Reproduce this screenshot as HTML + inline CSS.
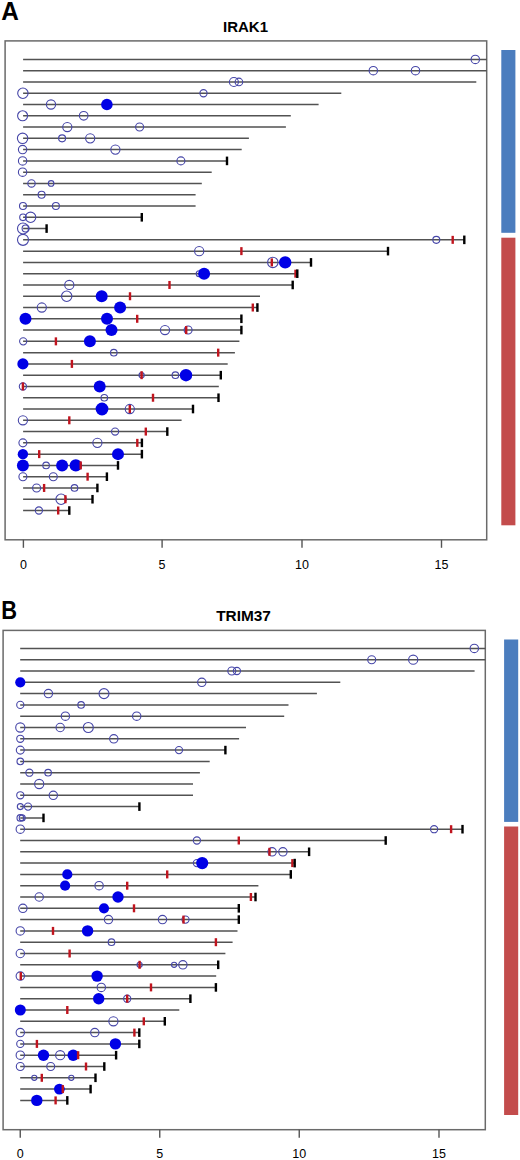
<!DOCTYPE html>
<html><head><meta charset="utf-8"><style>
html,body{margin:0;padding:0;background:#fff;}
body{width:520px;height:1160px;overflow:hidden;}
svg{display:block;font-family:"Liberation Sans",sans-serif;}
</style></head><body>
<svg width="520" height="1160" viewBox="0 0 520 1160">
<rect width="520" height="1160" fill="#fff"/>
<text x="1.3" y="19.8" font-size="25.5" font-weight="bold" textLength="17.6" lengthAdjust="spacingAndGlyphs">A</text>
<text x="245.5" y="31.6" font-size="15" font-weight="bold" text-anchor="middle">IRAK1</text>
<rect x="501.3" y="50" width="14.1" height="182.8" fill="#4b7dbe"/>
<rect x="501.3" y="237.7" width="14.1" height="287.6" fill="#c34c4c"/>
<rect x="5.1" y="40.9" width="481.6" height="498.9" fill="none" stroke="#6a6a6a" stroke-width="1.5"/>
<line x1="23.4" y1="539.8" x2="23.4" y2="547.8" stroke="#555" stroke-width="1.4"/>
<text x="23.4" y="568.5" font-size="12.5" text-anchor="middle">0</text>
<line x1="162.1" y1="539.8" x2="162.1" y2="547.8" stroke="#555" stroke-width="1.4"/>
<text x="162.1" y="568.5" font-size="12.5" text-anchor="middle">5</text>
<line x1="302" y1="539.8" x2="302" y2="547.8" stroke="#555" stroke-width="1.4"/>
<text x="302" y="568.5" font-size="12.5" text-anchor="middle">10</text>
<line x1="441.5" y1="539.8" x2="441.5" y2="547.8" stroke="#555" stroke-width="1.4"/>
<text x="441.5" y="568.5" font-size="12.5" text-anchor="middle">15</text>
<path d="M23.1 59.4H486.7 M23.1 70.68H486.7 M23.1 81.96H476.3 M23.1 93.23H341.3 M23.1 104.51H318.6 M23.1 115.79H290.8 M23.1 127.07H285.9 M23.1 138.35H248.9 M23.1 149.62H241.7 M23.1 160.9H227 M23.1 172.18H211.7 M23.1 183.46H201.8 M23.1 194.74H195.6 M23.1 206.01H195.6 M23.1 217.29H141.8 M23.1 228.57H46.6 M23.1 239.85H464.3 M23.1 251.13H388 M23.1 262.4H311 M23.1 273.68H297.3 M23.1 284.96H292.7 M23.1 296.24H260 M23.1 307.52H257.4 M23.1 318.79H241.4 M23.1 330.07H241.4 M23.1 341.35H239.4 M23.1 352.63H234.9 M23.1 363.91H227.7 M23.1 375.18H220.8 M23.1 386.46H218.8 M23.1 397.74H218.5 M23.1 409.02H193 M23.1 420.3H181.6 M23.1 431.57H167.3 M23.1 442.85H141.9 M23.1 454.13H141.9 M23.1 465.41H118 M23.1 476.69H106.9 M23.1 487.96H97.4 M23.1 499.24H92.5 M23.1 510.52H69.3" stroke="#525252" stroke-width="1.5" fill="none"/>
<circle cx="475.3" cy="59.4" r="4.2" fill="none" stroke="#4646a8" stroke-width="1.1"/>
<circle cx="373.3" cy="70.68" r="4.2" fill="none" stroke="#4646a8" stroke-width="1.1"/>
<circle cx="415.5" cy="70.68" r="4.2" fill="none" stroke="#4646a8" stroke-width="1.1"/>
<circle cx="233.9" cy="81.96" r="4.5" fill="none" stroke="#4646a8" stroke-width="1.1"/>
<circle cx="238.9" cy="81.96" r="3.8" fill="none" stroke="#4646a8" stroke-width="1.1"/>
<circle cx="22.9" cy="93.23" r="5.2" fill="none" stroke="#4646a8" stroke-width="1.1"/>
<circle cx="203.5" cy="93.23" r="3.6" fill="none" stroke="#4646a8" stroke-width="1.1"/>
<circle cx="51" cy="104.51" r="4.6" fill="none" stroke="#4646a8" stroke-width="1.1"/>
<circle cx="106.9" cy="104.51" r="5.8" fill="#0000e6"/>
<circle cx="22.6" cy="115.79" r="5" fill="none" stroke="#4646a8" stroke-width="1.1"/>
<circle cx="83.7" cy="115.79" r="4.3" fill="none" stroke="#4646a8" stroke-width="1.1"/>
<circle cx="67.3" cy="127.07" r="4.6" fill="none" stroke="#4646a8" stroke-width="1.1"/>
<circle cx="139.6" cy="127.07" r="4" fill="none" stroke="#4646a8" stroke-width="1.1"/>
<circle cx="22.6" cy="138.35" r="5.2" fill="none" stroke="#4646a8" stroke-width="1.1"/>
<circle cx="62.1" cy="138.35" r="3.5" fill="none" stroke="#4646a8" stroke-width="1.1"/>
<circle cx="90.2" cy="138.35" r="4.6" fill="none" stroke="#4646a8" stroke-width="1.1"/>
<circle cx="22.6" cy="149.62" r="4.2" fill="none" stroke="#4646a8" stroke-width="1.1"/>
<circle cx="115.4" cy="149.62" r="4.6" fill="none" stroke="#4646a8" stroke-width="1.1"/>
<circle cx="22.6" cy="160.9" r="4.2" fill="none" stroke="#4646a8" stroke-width="1.1"/>
<circle cx="180.9" cy="160.9" r="4" fill="none" stroke="#4646a8" stroke-width="1.1"/>
<circle cx="22.6" cy="172.18" r="4.2" fill="none" stroke="#4646a8" stroke-width="1.1"/>
<circle cx="31.5" cy="183.46" r="3.7" fill="none" stroke="#4646a8" stroke-width="1.1"/>
<circle cx="51.1" cy="183.46" r="2.8" fill="none" stroke="#4646a8" stroke-width="1.1"/>
<circle cx="41.6" cy="194.74" r="3.5" fill="none" stroke="#4646a8" stroke-width="1.1"/>
<circle cx="23" cy="206.01" r="3.5" fill="none" stroke="#4646a8" stroke-width="1.1"/>
<circle cx="55.9" cy="206.01" r="3.5" fill="none" stroke="#4646a8" stroke-width="1.1"/>
<circle cx="23" cy="217.29" r="3.3" fill="none" stroke="#4646a8" stroke-width="1.1"/>
<circle cx="30.6" cy="217.29" r="5.2" fill="none" stroke="#4646a8" stroke-width="1.1"/>
<circle cx="23" cy="228.57" r="5.5" fill="none" stroke="#4646a8" stroke-width="1.1"/>
<circle cx="25.6" cy="228.57" r="3.5" fill="none" stroke="#4646a8" stroke-width="1.1"/>
<circle cx="23" cy="239.85" r="5.5" fill="none" stroke="#4646a8" stroke-width="1.1"/>
<circle cx="436.3" cy="239.85" r="3.5" fill="none" stroke="#4646a8" stroke-width="1.1"/>
<circle cx="199.2" cy="251.13" r="4.6" fill="none" stroke="#4646a8" stroke-width="1.1"/>
<circle cx="272.8" cy="262.4" r="5.2" fill="none" stroke="#4646a8" stroke-width="1.1"/>
<circle cx="285.2" cy="262.4" r="6.2" fill="#0000e6"/>
<circle cx="199.2" cy="273.68" r="3" fill="none" stroke="#4646a8" stroke-width="1.1"/>
<circle cx="204.1" cy="273.68" r="6" fill="#0000e6"/>
<circle cx="69.3" cy="284.96" r="4.6" fill="none" stroke="#4646a8" stroke-width="1.1"/>
<circle cx="66.7" cy="296.24" r="5.2" fill="none" stroke="#4646a8" stroke-width="1.1"/>
<circle cx="101.7" cy="296.24" r="6" fill="#0000e6"/>
<circle cx="41.8" cy="307.52" r="4.6" fill="none" stroke="#4646a8" stroke-width="1.1"/>
<circle cx="120.1" cy="307.52" r="6" fill="#0000e6"/>
<circle cx="25.5" cy="318.79" r="6" fill="#0000e6"/>
<circle cx="107" cy="318.79" r="6" fill="#0000e6"/>
<circle cx="111.5" cy="330.07" r="6" fill="#0000e6"/>
<circle cx="165" cy="330.07" r="4.6" fill="none" stroke="#4646a8" stroke-width="1.1"/>
<circle cx="188.1" cy="330.07" r="4" fill="none" stroke="#4646a8" stroke-width="1.1"/>
<circle cx="23.2" cy="341.35" r="3.6" fill="none" stroke="#4646a8" stroke-width="1.1"/>
<circle cx="89.9" cy="341.35" r="6" fill="#0000e6"/>
<circle cx="113.8" cy="352.63" r="3.3" fill="none" stroke="#4646a8" stroke-width="1.1"/>
<circle cx="22.9" cy="363.91" r="5.6" fill="#0000e6"/>
<circle cx="141.6" cy="375.18" r="2.6" fill="none" stroke="#4646a8" stroke-width="1.1"/>
<circle cx="175.4" cy="375.18" r="3.3" fill="none" stroke="#4646a8" stroke-width="1.1"/>
<circle cx="186" cy="375.18" r="6.2" fill="#0000e6"/>
<circle cx="22.9" cy="386.46" r="3.6" fill="none" stroke="#4646a8" stroke-width="1.1"/>
<circle cx="99.7" cy="386.46" r="6" fill="#0000e6"/>
<circle cx="104.3" cy="397.74" r="3.3" fill="none" stroke="#4646a8" stroke-width="1.1"/>
<circle cx="102" cy="409.02" r="6.4" fill="#0000e6"/>
<circle cx="129.8" cy="409.02" r="4.6" fill="none" stroke="#4646a8" stroke-width="1.1"/>
<circle cx="22.9" cy="420.3" r="4.6" fill="none" stroke="#4646a8" stroke-width="1.1"/>
<circle cx="115.1" cy="431.57" r="3.6" fill="none" stroke="#4646a8" stroke-width="1.1"/>
<circle cx="22.9" cy="442.85" r="4" fill="none" stroke="#4646a8" stroke-width="1.1"/>
<circle cx="97.4" cy="442.85" r="4.6" fill="none" stroke="#4646a8" stroke-width="1.1"/>
<circle cx="22.9" cy="454.13" r="5.2" fill="#0000e6"/>
<circle cx="118" cy="454.13" r="6" fill="#0000e6"/>
<circle cx="22.9" cy="465.41" r="6" fill="#0000e6"/>
<circle cx="46.1" cy="465.41" r="3.3" fill="none" stroke="#4646a8" stroke-width="1.1"/>
<circle cx="62.1" cy="465.41" r="6" fill="#0000e6"/>
<circle cx="75.8" cy="465.41" r="6.2" fill="#0000e6"/>
<circle cx="22.9" cy="476.69" r="4" fill="none" stroke="#4646a8" stroke-width="1.1"/>
<circle cx="53.3" cy="476.69" r="4" fill="none" stroke="#4646a8" stroke-width="1.1"/>
<circle cx="36.6" cy="487.96" r="4" fill="none" stroke="#4646a8" stroke-width="1.1"/>
<circle cx="74.5" cy="487.96" r="3.3" fill="none" stroke="#4646a8" stroke-width="1.1"/>
<circle cx="61.1" cy="499.24" r="5.2" fill="none" stroke="#4646a8" stroke-width="1.1"/>
<circle cx="38.9" cy="510.52" r="3.6" fill="none" stroke="#4646a8" stroke-width="1.1"/>
<rect x="225.8" y="156.6" width="2.4" height="8.6" fill="#000000"/>
<rect x="140.6" y="212.99" width="2.4" height="8.6" fill="#000000"/>
<rect x="45.4" y="224.27" width="2.4" height="8.6" fill="#000000"/>
<rect x="451.5" y="235.85" width="2.4" height="8" fill="#c0141e"/>
<rect x="463.1" y="235.55" width="2.4" height="8.6" fill="#000000"/>
<rect x="240.2" y="247.13" width="2.4" height="8" fill="#c0141e"/>
<rect x="386.8" y="246.83" width="2.4" height="8.6" fill="#000000"/>
<rect x="270.6" y="258.4" width="2.4" height="8" fill="#c0141e"/>
<rect x="309.8" y="258.1" width="2.4" height="8.6" fill="#000000"/>
<rect x="294.3" y="269.68" width="2.4" height="8" fill="#c0141e"/>
<rect x="296.1" y="269.38" width="2.4" height="8.6" fill="#000000"/>
<rect x="168.3" y="280.96" width="2.4" height="8" fill="#c0141e"/>
<rect x="291.5" y="280.66" width="2.4" height="8.6" fill="#000000"/>
<rect x="128.8" y="292.24" width="2.4" height="8" fill="#c0141e"/>
<rect x="251.6" y="303.52" width="2.4" height="8" fill="#c0141e"/>
<rect x="256.2" y="303.22" width="2.4" height="8.6" fill="#000000"/>
<rect x="136" y="314.79" width="2.4" height="8" fill="#c0141e"/>
<rect x="240.2" y="314.49" width="2.4" height="8.6" fill="#000000"/>
<rect x="185" y="326.07" width="2.4" height="8" fill="#c0141e"/>
<rect x="240.2" y="325.77" width="2.4" height="8.6" fill="#000000"/>
<rect x="54.7" y="337.35" width="2.4" height="8" fill="#c0141e"/>
<rect x="217" y="348.63" width="2.4" height="8" fill="#c0141e"/>
<rect x="70.7" y="359.91" width="2.4" height="8" fill="#c0141e"/>
<rect x="140.4" y="371.18" width="2.4" height="8" fill="#c0141e"/>
<rect x="219.6" y="370.88" width="2.4" height="8.6" fill="#000000"/>
<rect x="21.7" y="382.46" width="2.4" height="8" fill="#c0141e"/>
<rect x="151.8" y="393.74" width="2.4" height="8" fill="#c0141e"/>
<rect x="217.3" y="393.44" width="2.4" height="8.6" fill="#000000"/>
<rect x="128.6" y="405.02" width="2.4" height="8" fill="#c0141e"/>
<rect x="191.8" y="404.72" width="2.4" height="8.6" fill="#000000"/>
<rect x="68.1" y="416.3" width="2.4" height="8" fill="#c0141e"/>
<rect x="144.6" y="427.57" width="2.4" height="8" fill="#c0141e"/>
<rect x="166.1" y="427.27" width="2.4" height="8.6" fill="#000000"/>
<rect x="136.1" y="438.85" width="2.4" height="8" fill="#c0141e"/>
<rect x="140.7" y="438.55" width="2.4" height="8.6" fill="#000000"/>
<rect x="38" y="450.13" width="2.4" height="8" fill="#c0141e"/>
<rect x="140.7" y="449.83" width="2.4" height="8.6" fill="#000000"/>
<rect x="79.5" y="461.41" width="2.4" height="8" fill="#c0141e"/>
<rect x="116.8" y="461.11" width="2.4" height="8.6" fill="#000000"/>
<rect x="86.4" y="472.69" width="2.4" height="8" fill="#c0141e"/>
<rect x="105.7" y="472.39" width="2.4" height="8.6" fill="#000000"/>
<rect x="42.9" y="483.96" width="2.4" height="8" fill="#c0141e"/>
<rect x="96.2" y="483.66" width="2.4" height="8.6" fill="#000000"/>
<rect x="64.2" y="495.24" width="2.4" height="8" fill="#c0141e"/>
<rect x="91.3" y="494.94" width="2.4" height="8.6" fill="#000000"/>
<rect x="57" y="506.52" width="2.4" height="8" fill="#c0141e"/>
<rect x="68.1" y="506.22" width="2.4" height="8.6" fill="#000000"/>
<text x="1.2" y="618.8" font-size="25.5" font-weight="bold" textLength="15.8" lengthAdjust="spacingAndGlyphs">B</text>
<text x="243.5" y="621.2" font-size="15.4" font-weight="bold" text-anchor="middle">TRIM37</text>
<rect x="504.1" y="639.5" width="14.1" height="182.4" fill="#4b7dbe"/>
<rect x="504.1" y="826.5" width="14.1" height="288.5" fill="#c34c4c"/>
<rect x="3.1" y="630.4" width="482.2" height="499.3" fill="none" stroke="#6a6a6a" stroke-width="1.5"/>
<line x1="20.25" y1="1129.7" x2="20.25" y2="1137.7" stroke="#555" stroke-width="1.4"/>
<text x="20.25" y="1158.4" font-size="12.5" text-anchor="middle">0</text>
<line x1="159.75" y1="1129.7" x2="159.75" y2="1137.7" stroke="#555" stroke-width="1.4"/>
<text x="159.75" y="1158.4" font-size="12.5" text-anchor="middle">5</text>
<line x1="299.25" y1="1129.7" x2="299.25" y2="1137.7" stroke="#555" stroke-width="1.4"/>
<text x="299.25" y="1158.4" font-size="12.5" text-anchor="middle">10</text>
<line x1="439" y1="1129.7" x2="439" y2="1137.7" stroke="#555" stroke-width="1.4"/>
<text x="439" y="1158.4" font-size="12.5" text-anchor="middle">15</text>
<path d="M20.2 648.4H485.3 M20.2 659.7H485.3 M20.2 671H474.6 M20.2 682.3H340.3 M20.2 693.6H316.9 M20.2 704.9H288.5 M20.2 716.2H284.2 M20.2 727.5H246 M20.2 738.8H239.1 M20.2 750.1H225.4 M20.2 761.4H209.7 M20.2 772.7H199.9 M20.2 784H193 M20.2 795.3H193 M20.2 806.6H139.4 M20.2 817.9H43.5 M20.2 829.2H462.5 M20.2 840.5H385.7 M20.2 851.8H309.1 M20.2 863.1H294.7 M20.2 874.4H290.8 M20.2 885.7H258.4 M20.2 897H255.5 M20.2 908.3H238.8 M20.2 919.6H238.8 M20.2 930.9H237.5 M20.2 942.2H232.6 M20.2 953.5H225.4 M20.2 964.8H218.2 M20.2 976.1H216.2 M20.2 987.4H215.9 M20.2 998.7H190.4 M20.2 1010H179.3 M20.2 1021.3H164.8 M20.2 1032.6H139.3 M20.2 1043.9H139.3 M20.2 1055.2H116.1 M20.2 1066.5H104.3 M20.2 1077.8H95.5 M20.2 1089.1H90.6 M20.2 1100.4H67.3" stroke="#525252" stroke-width="1.5" fill="none"/>
<circle cx="474.3" cy="648.4" r="4.2" fill="none" stroke="#4646a8" stroke-width="1.1"/>
<circle cx="371.7" cy="659.7" r="4" fill="none" stroke="#4646a8" stroke-width="1.1"/>
<circle cx="413.2" cy="659.7" r="4.6" fill="none" stroke="#4646a8" stroke-width="1.1"/>
<circle cx="231.8" cy="671" r="4" fill="none" stroke="#4646a8" stroke-width="1.1"/>
<circle cx="236.9" cy="671" r="3.6" fill="none" stroke="#4646a8" stroke-width="1.1"/>
<circle cx="20.3" cy="682.3" r="5.1" fill="#0000e6"/>
<circle cx="201.8" cy="682.3" r="4.2" fill="none" stroke="#4646a8" stroke-width="1.1"/>
<circle cx="48.4" cy="693.6" r="4.2" fill="none" stroke="#4646a8" stroke-width="1.1"/>
<circle cx="104" cy="693.6" r="5" fill="none" stroke="#4646a8" stroke-width="1.1"/>
<circle cx="20.3" cy="704.9" r="3.6" fill="none" stroke="#4646a8" stroke-width="1.1"/>
<circle cx="81.1" cy="704.9" r="3.3" fill="none" stroke="#4646a8" stroke-width="1.1"/>
<circle cx="65.4" cy="716.2" r="4.2" fill="none" stroke="#4646a8" stroke-width="1.1"/>
<circle cx="136.7" cy="716.2" r="4.2" fill="none" stroke="#4646a8" stroke-width="1.1"/>
<circle cx="20.3" cy="727.5" r="4.6" fill="none" stroke="#4646a8" stroke-width="1.1"/>
<circle cx="60.2" cy="727.5" r="4.2" fill="none" stroke="#4646a8" stroke-width="1.1"/>
<circle cx="88.3" cy="727.5" r="5" fill="none" stroke="#4646a8" stroke-width="1.1"/>
<circle cx="20.3" cy="738.8" r="3.6" fill="none" stroke="#4646a8" stroke-width="1.1"/>
<circle cx="113.8" cy="738.8" r="4.2" fill="none" stroke="#4646a8" stroke-width="1.1"/>
<circle cx="20.3" cy="750.1" r="4" fill="none" stroke="#4646a8" stroke-width="1.1"/>
<circle cx="179" cy="750.1" r="3.6" fill="none" stroke="#4646a8" stroke-width="1.1"/>
<circle cx="20.3" cy="761.4" r="3.3" fill="none" stroke="#4646a8" stroke-width="1.1"/>
<circle cx="29.4" cy="772.7" r="3.6" fill="none" stroke="#4646a8" stroke-width="1.1"/>
<circle cx="48.1" cy="772.7" r="3.3" fill="none" stroke="#4646a8" stroke-width="1.1"/>
<circle cx="39.2" cy="784" r="4.6" fill="none" stroke="#4646a8" stroke-width="1.1"/>
<circle cx="20.3" cy="795.3" r="3.6" fill="none" stroke="#4646a8" stroke-width="1.1"/>
<circle cx="53.3" cy="795.3" r="4.2" fill="none" stroke="#4646a8" stroke-width="1.1"/>
<circle cx="20.3" cy="806.6" r="3" fill="none" stroke="#4646a8" stroke-width="1.1"/>
<circle cx="28" cy="806.6" r="3.6" fill="none" stroke="#4646a8" stroke-width="1.1"/>
<circle cx="20.3" cy="817.9" r="3.3" fill="none" stroke="#4646a8" stroke-width="1.1"/>
<circle cx="22.2" cy="817.9" r="3" fill="none" stroke="#4646a8" stroke-width="1.1"/>
<circle cx="20.3" cy="829.2" r="4.2" fill="none" stroke="#4646a8" stroke-width="1.1"/>
<circle cx="434.1" cy="829.2" r="3.6" fill="none" stroke="#4646a8" stroke-width="1.1"/>
<circle cx="196.9" cy="840.5" r="3.6" fill="none" stroke="#4646a8" stroke-width="1.1"/>
<circle cx="272.1" cy="851.8" r="4.2" fill="none" stroke="#4646a8" stroke-width="1.1"/>
<circle cx="282.9" cy="851.8" r="4.2" fill="none" stroke="#4646a8" stroke-width="1.1"/>
<circle cx="196.9" cy="863.1" r="3.6" fill="none" stroke="#4646a8" stroke-width="1.1"/>
<circle cx="202.2" cy="863.1" r="6.1" fill="#0000e6"/>
<circle cx="67.3" cy="874.4" r="5.1" fill="#0000e6"/>
<circle cx="65.1" cy="885.7" r="5.1" fill="#0000e6"/>
<circle cx="99.1" cy="885.7" r="4.2" fill="none" stroke="#4646a8" stroke-width="1.1"/>
<circle cx="39.2" cy="897" r="4.2" fill="none" stroke="#4646a8" stroke-width="1.1"/>
<circle cx="118" cy="897" r="5.7" fill="#0000e6"/>
<circle cx="22.9" cy="908.3" r="4.2" fill="none" stroke="#4646a8" stroke-width="1.1"/>
<circle cx="104" cy="908.3" r="5.1" fill="#0000e6"/>
<circle cx="108.5" cy="919.6" r="4.2" fill="none" stroke="#4646a8" stroke-width="1.1"/>
<circle cx="162.5" cy="919.6" r="4.2" fill="none" stroke="#4646a8" stroke-width="1.1"/>
<circle cx="185.5" cy="919.6" r="3.6" fill="none" stroke="#4646a8" stroke-width="1.1"/>
<circle cx="20.3" cy="930.9" r="4.2" fill="none" stroke="#4646a8" stroke-width="1.1"/>
<circle cx="87.6" cy="930.9" r="5.7" fill="#0000e6"/>
<circle cx="111.5" cy="942.2" r="3.3" fill="none" stroke="#4646a8" stroke-width="1.1"/>
<circle cx="20.3" cy="953.5" r="4.2" fill="none" stroke="#4646a8" stroke-width="1.1"/>
<circle cx="139.6" cy="964.8" r="2.6" fill="none" stroke="#4646a8" stroke-width="1.1"/>
<circle cx="174.1" cy="964.8" r="2.6" fill="none" stroke="#4646a8" stroke-width="1.1"/>
<circle cx="182.9" cy="964.8" r="4.2" fill="none" stroke="#4646a8" stroke-width="1.1"/>
<circle cx="20.3" cy="976.1" r="4.2" fill="none" stroke="#4646a8" stroke-width="1.1"/>
<circle cx="97.1" cy="976.1" r="5.7" fill="#0000e6"/>
<circle cx="101.3" cy="987.4" r="4.2" fill="none" stroke="#4646a8" stroke-width="1.1"/>
<circle cx="98.7" cy="998.7" r="5.7" fill="#0000e6"/>
<circle cx="127.2" cy="998.7" r="3.6" fill="none" stroke="#4646a8" stroke-width="1.1"/>
<circle cx="20.3" cy="1010" r="5.5" fill="#0000e6"/>
<circle cx="113.4" cy="1021.3" r="4.6" fill="none" stroke="#4646a8" stroke-width="1.1"/>
<circle cx="20.3" cy="1032.6" r="4.2" fill="none" stroke="#4646a8" stroke-width="1.1"/>
<circle cx="94.8" cy="1032.6" r="4.2" fill="none" stroke="#4646a8" stroke-width="1.1"/>
<circle cx="20.3" cy="1043.9" r="3.6" fill="none" stroke="#4646a8" stroke-width="1.1"/>
<circle cx="115.4" cy="1043.9" r="5.7" fill="#0000e6"/>
<circle cx="20.3" cy="1055.2" r="4.2" fill="none" stroke="#4646a8" stroke-width="1.1"/>
<circle cx="43.5" cy="1055.2" r="5.7" fill="#0000e6"/>
<circle cx="60.2" cy="1055.2" r="4.6" fill="none" stroke="#4646a8" stroke-width="1.1"/>
<circle cx="73.2" cy="1055.2" r="5.7" fill="#0000e6"/>
<circle cx="20.3" cy="1066.5" r="4" fill="none" stroke="#4646a8" stroke-width="1.1"/>
<circle cx="50.7" cy="1066.5" r="4" fill="none" stroke="#4646a8" stroke-width="1.1"/>
<circle cx="34.3" cy="1077.8" r="2.6" fill="none" stroke="#4646a8" stroke-width="1.1"/>
<circle cx="71.3" cy="1077.8" r="2.6" fill="none" stroke="#4646a8" stroke-width="1.1"/>
<circle cx="59.4" cy="1089.1" r="5.4" fill="#0000e6"/>
<circle cx="36.8" cy="1100.4" r="5.7" fill="#0000e6"/>
<rect x="224.2" y="745.8" width="2.4" height="8.6" fill="#000000"/>
<rect x="138.2" y="802.3" width="2.4" height="8.6" fill="#000000"/>
<rect x="42.3" y="813.6" width="2.4" height="8.6" fill="#000000"/>
<rect x="449.9" y="825.2" width="2.4" height="8" fill="#c0141e"/>
<rect x="461.3" y="824.9" width="2.4" height="8.6" fill="#000000"/>
<rect x="237.6" y="836.5" width="2.4" height="8" fill="#c0141e"/>
<rect x="384.5" y="836.2" width="2.4" height="8.6" fill="#000000"/>
<rect x="268.3" y="847.8" width="2.4" height="8" fill="#c0141e"/>
<rect x="307.9" y="847.5" width="2.4" height="8.6" fill="#000000"/>
<rect x="291.2" y="859.1" width="2.4" height="8" fill="#c0141e"/>
<rect x="293.5" y="858.8" width="2.4" height="8.6" fill="#000000"/>
<rect x="166" y="870.4" width="2.4" height="8" fill="#c0141e"/>
<rect x="289.6" y="870.1" width="2.4" height="8.6" fill="#000000"/>
<rect x="126" y="881.7" width="2.4" height="8" fill="#c0141e"/>
<rect x="249.7" y="893" width="2.4" height="8" fill="#c0141e"/>
<rect x="254.3" y="892.7" width="2.4" height="8.6" fill="#000000"/>
<rect x="132.8" y="904.3" width="2.4" height="8" fill="#c0141e"/>
<rect x="237.6" y="904" width="2.4" height="8.6" fill="#000000"/>
<rect x="182.3" y="915.6" width="2.4" height="8" fill="#c0141e"/>
<rect x="237.6" y="915.3" width="2.4" height="8.6" fill="#000000"/>
<rect x="51.8" y="926.9" width="2.4" height="8" fill="#c0141e"/>
<rect x="214.7" y="938.2" width="2.4" height="8" fill="#c0141e"/>
<rect x="68.4" y="949.5" width="2.4" height="8" fill="#c0141e"/>
<rect x="138.4" y="960.8" width="2.4" height="8" fill="#c0141e"/>
<rect x="217" y="960.5" width="2.4" height="8.6" fill="#000000"/>
<rect x="19.6" y="972.1" width="2.4" height="8" fill="#c0141e"/>
<rect x="149.8" y="983.4" width="2.4" height="8" fill="#c0141e"/>
<rect x="214.7" y="983.1" width="2.4" height="8.6" fill="#000000"/>
<rect x="126" y="994.7" width="2.4" height="8" fill="#c0141e"/>
<rect x="189.2" y="994.4" width="2.4" height="8.6" fill="#000000"/>
<rect x="66.1" y="1006" width="2.4" height="8" fill="#c0141e"/>
<rect x="142.6" y="1017.3" width="2.4" height="8" fill="#c0141e"/>
<rect x="163.6" y="1017" width="2.4" height="8.6" fill="#000000"/>
<rect x="133.2" y="1028.6" width="2.4" height="8" fill="#c0141e"/>
<rect x="138.1" y="1028.3" width="2.4" height="8.6" fill="#000000"/>
<rect x="35.7" y="1039.9" width="2.4" height="8" fill="#c0141e"/>
<rect x="138.1" y="1039.6" width="2.4" height="8.6" fill="#000000"/>
<rect x="76.9" y="1051.2" width="2.4" height="8" fill="#c0141e"/>
<rect x="114.9" y="1050.9" width="2.4" height="8.6" fill="#000000"/>
<rect x="84.8" y="1062.5" width="2.4" height="8" fill="#c0141e"/>
<rect x="103.1" y="1062.2" width="2.4" height="8.6" fill="#000000"/>
<rect x="40.6" y="1073.8" width="2.4" height="8" fill="#c0141e"/>
<rect x="94.3" y="1073.5" width="2.4" height="8.6" fill="#000000"/>
<rect x="61.6" y="1085.1" width="2.4" height="8" fill="#c0141e"/>
<rect x="89.4" y="1084.8" width="2.4" height="8.6" fill="#000000"/>
<rect x="54.4" y="1096.4" width="2.4" height="8" fill="#c0141e"/>
<rect x="66.1" y="1096.1" width="2.4" height="8.6" fill="#000000"/>
</svg>
</body></html>
